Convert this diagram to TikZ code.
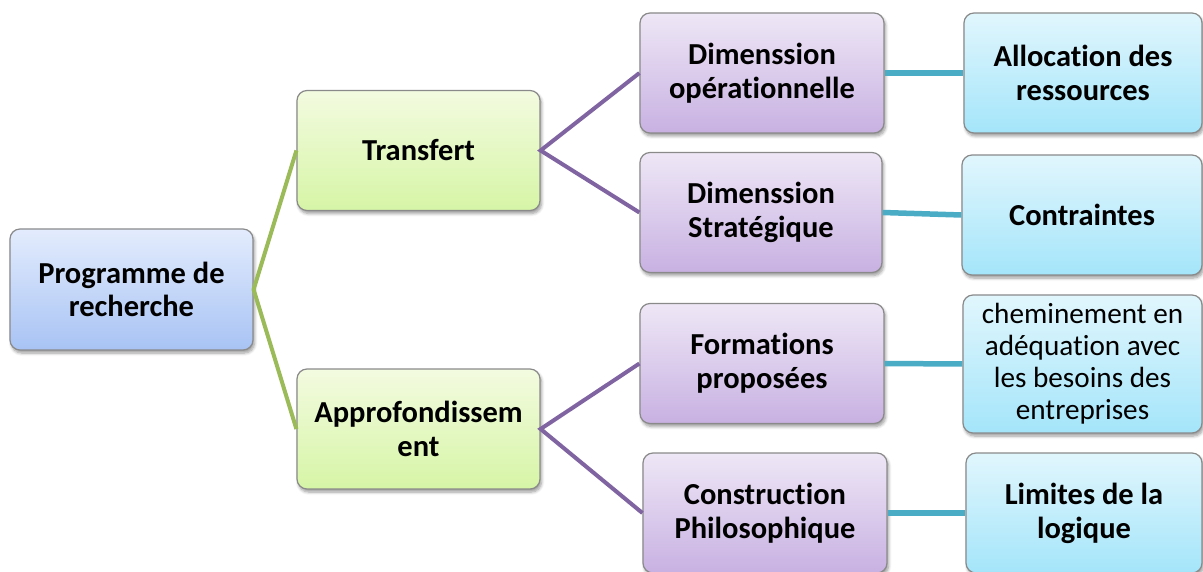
\documentclass[tikz,border=0pt]{standalone}
\usepackage{fontspec}
\setmainfont{Carlito}[Ligatures=NoCommon]
\usetikzlibrary{shadows.blur}

\definecolor{edgegray}{HTML}{8A8A8A}
\definecolor{lineGreen}{HTML}{9BBB59}
\definecolor{linePurple}{HTML}{8064A2}
\definecolor{lineBlue}{HTML}{4BACC6}
\definecolor{rootTop}{HTML}{E3ECFD}
\definecolor{rootBot}{HTML}{A8C3F4}
\definecolor{greenTop}{RGB}{243,251,224}
\definecolor{greenBot}{RGB}{214,245,166}
\definecolor{purpleTop}{RGB}{238,231,246}
\definecolor{purpleBot}{RGB}{200,177,226}
\definecolor{blueTop}{RGB}{225,246,253}
\definecolor{blueBot}{RGB}{164,229,250}

\tikzset{
  box/.style={draw=edgegray, line width=1.2pt, rounded corners=10pt,
    align=center, inner sep=2pt, text=black,
    blur shadow={shadow xshift=1.5pt, shadow yshift=-3pt, shadow blur steps=6,
                 shadow blur radius=3pt, shadow opacity=40},
    font=\fontsize{30.5}{34}\selectfont\bfseries},
  rootbox/.style={box, minimum width=243pt, minimum height=121pt,
    top color=rootTop, bottom color=rootBot, font=\fontsize{30.5}{32.5}\selectfont\bfseries},
  greenbox/.style={box, minimum width=243pt, minimum height=120pt,
    top color=greenTop, bottom color=greenBot},
  purplebox/.style={box, minimum width=244pt, minimum height=120pt,
    top color=purpleTop, bottom color=purpleBot},
  bluebox/.style={box, minimum width=238pt, minimum height=120pt,
    top color=blueTop, bottom color=blueBot},
  greenlink/.style={draw=lineGreen, line width=4pt},
  purplelink/.style={draw=linePurple, line width=4pt},
  bluelink/.style={draw=lineBlue, line width=5.5pt},
}

\begin{document}
\begin{tikzpicture}[x=1pt, y=-1pt]
  \useasboundingbox (0,0) rectangle (1203,572);

  % root
  \node[rootbox] (root) at (131.5,289.5) {Programme de\\recherche};

  % second level
  \node[greenbox] (trans) at (418.5,150.5) {Transfert};
  \node[greenbox] (appro) at (418.5,429) {Approfondissem\\ent};

  % third level
  \node[purplebox] (dimop)  at (762,73)    {Dimenssion\\opérationnelle};
  \node[purplebox, minimum width=242pt] (dimstr) at (761,212.5) {Dimenssion\\Stratégique};
  \node[purplebox] (form)   at (762,363.5) {Formations\\proposées};
  \node[purplebox] (constr) at (765,513)   {Construction\\Philosophique};

  % fourth level
  \node[bluebox] (alloc) at (1083,73)  {Allocation des\\ressources};
  \node[bluebox, minimum width=240pt] (contr) at (1082,215) {Contraintes};
  \node[bluebox, minimum width=239pt, minimum height=138pt, font=\fontsize{29.2}{32}\selectfont]
     (chem) at (1082.5,364) {cheminement en\\adéquation avec\\les besoins des\\entreprises};
  \node[bluebox, minimum width=236pt] (lim) at (1084,513) {Limites de la\\logique};

  % connectors
  \draw[greenlink] (trans.west) -- (root.east) -- (appro.west);
  \draw[purplelink] (dimop.west) -- (trans.east) -- (dimstr.west);
  \draw[purplelink] (form.west) -- (appro.east) -- (constr.west);
  \draw[bluelink] (dimop.east) -- (alloc.west);
  \draw[bluelink] (dimstr.east) -- (contr.west);
  \draw[bluelink] (form.east) -- (chem.west);
  \draw[bluelink] (constr.east) -- (lim.west);
\end{tikzpicture}
\end{document}
